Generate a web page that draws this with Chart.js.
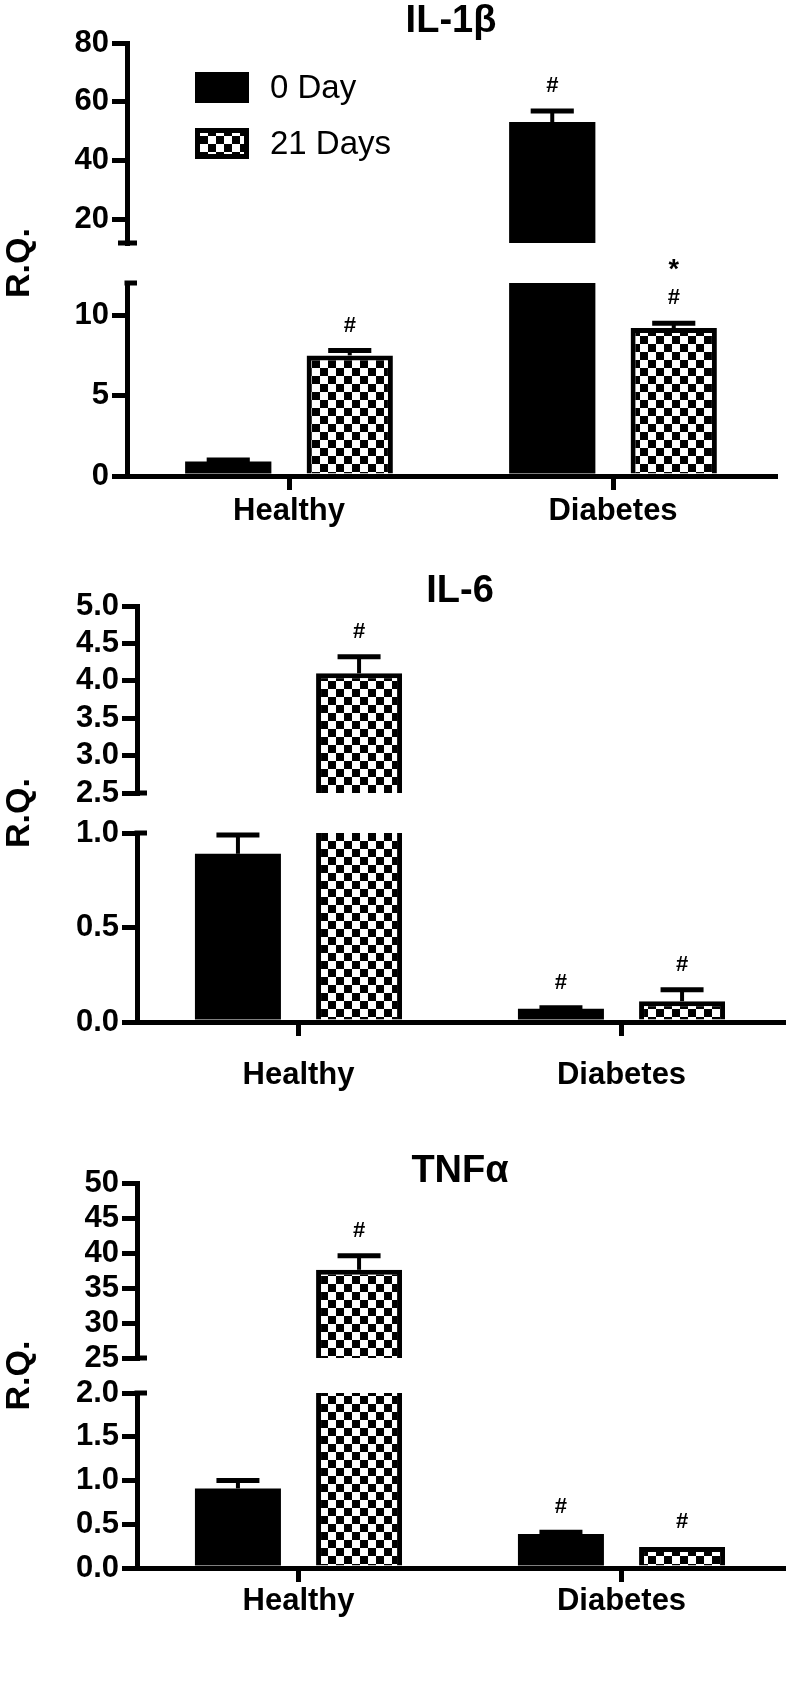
<!DOCTYPE html>
<html>
<head>
<meta charset="utf-8">
<script src="https://cdn.jsdelivr.net/npm/chart.js@4.4.1/dist/chart.umd.min.js"></script>
<style>
  html, body { margin: 0; padding: 0; background: #fff; }
  #wrap { position: relative; width: 789px; height: 1687px; overflow: hidden; }
  canvas { position: absolute; left: 0; }
</style>
</head>
<body>
<div id="wrap">
  <canvas id="il1b" width="789" height="570" style="top:0px"></canvas>
  <canvas id="il6" width="789" height="570" style="top:545px"></canvas>
  <canvas id="tnfa" width="789" height="587" style="top:1100px"></canvas>
</div>
<script>
const categories = ['Healthy', 'Diabetes'];
const seriesNames = ['0 Day', '21 Days'];

// IL-1β
const il1bDay0 = [0.9, 53.1];
const il1bDay0Err = [0.1, 3.8];
const il1bDay21 = [7.5, 9.2];
const il1bDay21Err = [0.3, 0.3];
const il1bDay0Marks = ['', '#'];
const il1bDay21Marks = ['#', '*#'];
const il1bLowRange = [0, 12];
const il1bHighRange = [12, 80];
const il1bLowTicks = [0, 5, 10];
const il1bHighTicks = [20, 40, 60, 80];

// IL-6
const il6Day0 = [0.89, 0.07];
const il6Day0Err = [0.1, 0.005];
const il6Day21 = [4.1, 0.11];
const il6Day21Err = [0.22, 0.06];
const il6Day0Marks = ['', '#'];
const il6Day21Marks = ['#', '#'];
const il6LowRange = [0, 1];
const il6HighRange = [2.5, 5];
const il6LowTicks = [0, 0.5, 1.0];
const il6HighTicks = [2.5, 3.0, 3.5, 4.0, 4.5, 5.0];

// TNFα
const tnfaDay0 = [0.91, 0.39];
const tnfaDay0Err = [0.09, 0.02];
const tnfaDay21 = [37.6, 0.24];
const tnfaDay21Err = [2.0, 0.0];
const tnfaDay0Marks = ['', '#'];
const tnfaDay21Marks = ['#', '#'];
const tnfaLowRange = [0, 2];
const tnfaHighRange = [25, 50];
const tnfaLowTicks = [0, 0.5, 1.0, 1.5, 2.0];
const tnfaHighTicks = [25, 30, 35, 40, 45, 50];

Chart.defaults.font.family = "'Liberation Sans', Arial, sans-serif";
Chart.defaults.color = '#000';

// checkerboard tile for the 21 days bars
const tile = document.createElement('canvas');
tile.width = tile.height = 16;
const tg = tile.getContext('2d');
tg.fillStyle = '#fff';
tg.fillRect(0, 0, 16, 16);
tg.fillStyle = '#000';
tg.fillRect(0, 0, 8, 8);
tg.fillRect(8, 8, 8, 8);

// clip every dataset to its own y segment, then draw error bars, marks, breaks, legend
const decorations = {
  id: 'decorations',
  beforeDatasetDraw(chart, args) {
    const s = args.meta.yScale;
    const a = chart.chartArea;
    const c = chart.ctx;
    c.save();
    c.beginPath();
    c.rect(a.left, s.top, a.right - a.left, s.bottom - s.top);
    c.clip();
  },
  afterDatasetDraw(chart) {
    chart.ctx.restore();
  },
  afterDatasetsDraw(chart, args, opts) {
    const c = chart.ctx;
    c.save();
    c.strokeStyle = '#000';
    c.fillStyle = '#000';
    chart.data.datasets.forEach((ds, i) => {
      const meta = chart.getDatasetMeta(i);
      const s = meta.yScale;
      meta.data.forEach((bar, j) => {
        const v = ds.data[j];
        const top = v + ds.errors[j];
        if (top < s.min || top > s.max) return;
        const yTop = s.getPixelForValue(top);
        const yVal = Math.min(s.getPixelForValue(v), s.bottom);
        if (ds.errors[j] > 0) {
          const half = bar.width / 4;
          c.lineWidth = 4;
          c.beginPath();
          c.moveTo(bar.x, yVal);
          c.lineTo(bar.x, yTop);
          c.stroke();
          c.lineWidth = 5;
          c.beginPath();
          c.moveTo(bar.x - half, yTop);
          c.lineTo(bar.x + half, yTop);
          c.stroke();
        }
        const marks = ds.marks[j].split('').reverse();
        c.textAlign = 'center';
        c.textBaseline = 'middle';
        marks.forEach((m, k) => {
          c.font = (m === '*' ? 'bold 27px' : 'bold 22px') + " 'Liberation Sans', Arial, sans-serif";
          c.fillText(m, bar.x, yTop - 25 - 32 * k + (m === '*' ? 4 : 0));
        });
      });
    });
    // axis break caps
    const lo = chart.scales.yLow;
    const hi = chart.scales.yHigh;
    const ax = chart.chartArea.left;
    c.lineWidth = 5;
    c.beginPath();
    c.moveTo(ax - 2.5, lo.top);
    c.lineTo(ax + 10, lo.top);
    c.moveTo(ax - opts.capLeft, hi.bottom);
    c.lineTo(ax + 10, hi.bottom);
    c.stroke();
    c.restore();
  },
  afterDraw(chart, args, opts) {
    if (!opts.legend) return;
    const c = chart.ctx;
    const L = opts.legend;
    c.save();
    chart.data.datasets.slice(0, 2).forEach((ds, k) => {
      const x = L.x, y = L.y + k * L.step, w = 54, h = 31;
      c.fillStyle = '#000';
      c.fillRect(x, y, w, h);
      if (ds.borderWidth) {
        c.fillStyle = ds.backgroundColor;
        c.fillRect(x + 5, y + 5, w - 10, h - 10);
      }
      c.fillStyle = '#000';
      c.font = "33px 'Liberation Sans', Arial, sans-serif";
      c.textAlign = 'left';
      c.textBaseline = 'middle';
      c.fillText(ds.label, x + 75, y + h / 2 + 1);
    });
    c.restore();
  }
};

function valueAxis(cfg, range, ticks, weight, px) {
  return {
    type: 'linear',
    position: 'left',
    stack: 'rq',
    stackWeight: px,
    weight: weight,
    stacked: false,
    min: range[0],
    max: range[1],
    afterBuildTicks: s => { s.ticks = ticks.map(v => ({ value: v })); },
    afterFit: s => { s.width = cfg.left; },
    grid: { drawOnChartArea: false, color: '#000', lineWidth: 5, tickLength: 15 },
    border: { color: '#000', width: 5 },
    ticks: {
      autoSkip: false,
      padding: 3,
      color: '#000',
      font: { size: 31, weight: 'bold' },
      callback: v => cfg.fmt(v)
    }
  };
}

function makePanel(cfg) {
  const canvas = document.getElementById(cfg.id);
  const ctx = canvas.getContext('2d');
  const checker = ctx.createPattern(tile, 'repeat');
  const datasets = [];
  ['yHigh', 'yLow'].forEach(axis => {
    datasets.push({
      label: seriesNames[0], data: cfg.day0, errors: cfg.day0Err, marks: cfg.day0Marks,
      yAxisID: axis, stack: 'day0', backgroundColor: '#000', borderWidth: 0
    });
    datasets.push({
      label: seriesNames[1], data: cfg.day21, errors: cfg.day21Err, marks: cfg.day21Marks,
      yAxisID: axis, stack: 'day21', backgroundColor: checker, borderColor: '#000', borderWidth: 5
    });
  });

  new Chart(ctx, {
    type: 'bar',
    data: { labels: categories, datasets: datasets },
    options: {
      responsive: false,
      animation: false,
      devicePixelRatio: 1,
      events: [],
      categoryPercentage: 0.75,
      barPercentage: 0.71,
      layout: {
        padding: { top: 0, left: 0, right: 789 - cfg.right, bottom: cfg.height - (cfg.bottom - cfg.top) - 80 }
      },
      scales: {
        x: {
          type: 'category',
          offset: true,
          z: 1,
          afterFit: s => { s.height = 80; },
          grid: { offset: false, drawOnChartArea: false, color: '#000', lineWidth: 5, tickLength: 14 },
          border: { color: '#000', width: 5 },
          ticks: {
            autoSkip: false, maxRotation: 0, padding: cfg.xPad, color: '#000',
            font: { size: 31, weight: 'bold', lineHeight: 1 }
          }
        },
        yHigh: valueAxis(cfg, cfg.highRange, cfg.highTicks, 3, cfg.highPx),
        yGap: {
          type: 'linear',
          position: 'left',
          stack: 'rq',
          stackWeight: cfg.gapPx,
          weight: 2,
          afterFit: s => { s.width = cfg.left; },
          ticks: { display: false },
          grid: { display: false, drawTicks: false },
          border: { display: false },
          title: {
            display: true, text: 'R.Q.', color: '#000',
            font: { size: 34, weight: 'bold', lineHeight: 1 },
            padding: { top: 3, bottom: 0 }
          }
        },
        yLow: valueAxis(cfg, cfg.lowRange, cfg.lowTicks, 1, cfg.lowPx)
      },
      plugins: {
        legend: { display: false },
        tooltip: { enabled: false },
        title: {
          display: true,
          text: cfg.title,
          fullSize: false,
          color: '#000',
          font: { size: 38, weight: 'bold', lineHeight: 1 },
          padding: { top: cfg.titleTop, bottom: cfg.titleBottom }
        },
        decorations: { capLeft: cfg.capLeft, legend: cfg.legend }
      }
    },
    plugins: [decorations]
  });
}

const intLabel = v => String(v);
const oneDecimal = v => v.toFixed(1);

makePanel({
  id: 'il1b', title: 'IL-1β', height: 570, top: 0,
  left: 127, right: 775, bottom: 476,
  highPx: 200, gapPx: 40, lowPx: 193,
  titleTop: 2.8, titleBottom: 2.2, xPad: 6, capLeft: 9,
  day0: il1bDay0, day0Err: il1bDay0Err, day21: il1bDay21, day21Err: il1bDay21Err,
  day0Marks: il1bDay0Marks, day21Marks: il1bDay21Marks,
  lowRange: il1bLowRange, highRange: il1bHighRange,
  lowTicks: il1bLowTicks, highTicks: il1bHighTicks, fmt: intLabel,
  legend: { x: 195, y: 72, step: 56 }
});

makePanel({
  id: 'il6', title: 'IL-6', height: 570, top: 545,
  left: 137, right: 783, bottom: 1022,
  highPx: 187, gapPx: 40, lowPx: 189,
  titleTop: 27.8, titleBottom: -4.8, xPad: 24, capLeft: 0,
  day0: il6Day0, day0Err: il6Day0Err, day21: il6Day21, day21Err: il6Day21Err,
  day0Marks: il6Day0Marks, day21Marks: il6Day21Marks,
  lowRange: il6LowRange, highRange: il6HighRange,
  lowTicks: il6LowTicks, highTicks: il6HighTicks, fmt: oneDecimal,
  legend: null
});

makePanel({
  id: 'tnfa', title: 'TNFα', height: 587, top: 1100,
  left: 137, right: 783, bottom: 1568,
  highPx: 175, gapPx: 35, lowPx: 175,
  titleTop: 52.8, titleBottom: -7.8, xPad: 4, capLeft: 0,
  day0: tnfaDay0, day0Err: tnfaDay0Err, day21: tnfaDay21, day21Err: tnfaDay21Err,
  day0Marks: tnfaDay0Marks, day21Marks: tnfaDay21Marks,
  lowRange: tnfaLowRange, highRange: tnfaHighRange,
  lowTicks: tnfaLowTicks, highTicks: tnfaHighTicks,
  fmt: v => (v >= 10 ? String(v) : v.toFixed(1)),
  legend: null
});
</script>
</body>
</html>
